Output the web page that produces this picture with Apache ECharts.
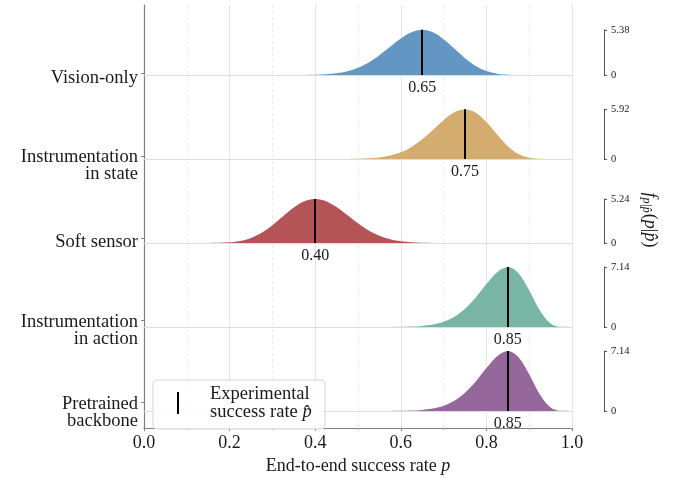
<!DOCTYPE html>
<html>
<head>
<meta charset="utf-8">
<script src="https://cdn.jsdelivr.net/npm/echarts@6/dist/echarts.min.js"></script>
<style>
  html, body { margin: 0; padding: 0; background: #fff; }
  #chart { width: 681px; height: 480px; }
</style>
</head>
<body>
<div id="chart"></div>
<script>
// ------------------------------------------------------------
// data
// ------------------------------------------------------------
var CATEGORIES = ['Vision-only', 'Instrumentation\nin state', 'Soft sensor', 'Instrumentation\nin action', 'Pretrained\nbackbone'];
var P_HAT = [0.65, 0.75, 0.40, 0.85, 0.85];
var PEAK_DENSITY = [5.38, 5.92, 5.24, 7.14, 7.14];

// success rate p, sampled every 0.025
var P_GRID = [0, 0.025, 0.05, 0.075, 0.1, 0.125, 0.15, 0.175, 0.2, 0.225, 0.25, 0.275, 0.3, 0.325,
  0.35, 0.375, 0.4, 0.425, 0.45, 0.475, 0.5, 0.525, 0.55, 0.575, 0.6, 0.625, 0.65, 0.675,
  0.7, 0.725, 0.75, 0.775, 0.8, 0.825, 0.85, 0.875, 0.9, 0.925, 0.95, 0.975, 1];

var DENSITY_VISION = [0, 0, 0, 0, 0, 0, 0, 0, 0, 0, 0, 0, 0, 0,
  0.003, 0.011, 0.034, 0.089, 0.212, 0.450, 0.864, 1.499, 2.357, 3.363, 4.352, 5.098, 5.38, 5.086,
  4.269, 3.144, 1.999, 1.073, 0.471, 0.162, 0.041, 0.007, 0.001, 0, 0, 0, 0];
var DENSITY_STATE = [0, 0, 0, 0, 0, 0, 0, 0, 0, 0, 0, 0, 0, 0,
  0, 0, 0, 0, 0.003, 0.011, 0.032, 0.082, 0.192, 0.412, 0.806, 1.438, 2.340, 3.460,
  4.627, 5.553, 5.92, 5.520, 4.407, 2.918, 1.529, 0.590, 0.147, 0.019, 0.001, 0, 0];
var DENSITY_SOFT = [0, 0, 0, 0, 0, 0, 0.003, 0.020, 0.080, 0.245, 0.601, 1.225, 2.123, 3.193,
  4.224, 4.970, 5.24, 4.977, 4.274, 3.324, 2.342, 1.493, 0.858, 0.443, 0.204, 0.083, 0.030, 0.009,
  0.002, 0, 0, 0, 0, 0, 0, 0, 0, 0, 0, 0, 0];
var DENSITY_ACTION = [0, 0, 0, 0, 0, 0, 0, 0, 0, 0, 0, 0, 0, 0,
  0, 0, 0, 0, 0, 0, 0, 0, 0.002, 0.006, 0.018, 0.050, 0.126, 0.291,
  0.621, 1.215, 2.171, 3.518, 5.107, 6.525, 7.14, 6.407, 4.377, 1.978, 0.430, 0.016, 0];
var DENSITY_BACKBONE = [0, 0, 0, 0, 0, 0, 0, 0, 0, 0, 0, 0, 0, 0,
  0, 0, 0, 0, 0, 0, 0, 0, 0.002, 0.006, 0.018, 0.050, 0.126, 0.291,
  0.621, 1.215, 2.171, 3.518, 5.107, 6.525, 7.14, 6.407, 4.377, 1.978, 0.430, 0.016, 0];

var DENSITIES = [DENSITY_VISION, DENSITY_STATE, DENSITY_SOFT, DENSITY_ACTION, DENSITY_BACKBONE];
var FILL_COLORS = ['#6396c2', '#d5ac6f', '#b45457', '#79b5a5', '#96679a'];

// ------------------------------------------------------------
// layout
// ------------------------------------------------------------
var WIDTH = 681;
var HEIGHT = 480;
var PLOT_LEFT = 144;
var PLOT_RIGHT = 572;
var PLOT_TOP = 5;
var PLOT_BOTTOM = 437;
var ROW_BASE0 = 75;     // baseline of the first row
var ROW_STEP = 84;      // distance between row baselines
var PX_PER_UNIT = 8.4;  // shared density scale
var SERIF = '"Liberation Serif", "DejaVu Serif", serif';
var TEXT_COLOR = '#1a1a1a';

function rowBaseline(i) { return ROW_BASE0 + ROW_STEP * i; }

// row labels sit a little below their tick, as matplotlib draws them
function rowLabel(v) {
  var lines = CATEGORIES[Math.round(v)].split('\n');
  var pad = lines.length > 1 ? '{e2| }' : '{e1| }';
  return pad + '\n' + lines.map(function(s) { return '{t|' + s + '}'; }).join('\n');
}

var grids = [{ left: PLOT_LEFT, right: WIDTH - PLOT_RIGHT, top: PLOT_TOP, bottom: HEIGHT - PLOT_BOTTOM }];
var xAxes = [{
  gridIndex: 0, type: 'value', min: 0, max: 1, interval: 0.2,
  axisLine: { show: true, onZero: false, lineStyle: { color: '#808080', width: 1.2 } },
  axisTick: { show: true, length: 3, lineStyle: { color: '#808080' } },
  minorTick: { show: true, splitNumber: 2, length: 2, lineStyle: { color: '#a0a0a0' } },
  axisLabel: { fontFamily: SERIF, fontSize: 18, color: TEXT_COLOR, margin: 6,
    formatter: function(v) { return v.toFixed(1); } },
  splitLine: { show: true, lineStyle: { color: '#e4e4e4', width: 1 } },
  minorSplitLine: { show: true, lineStyle: { color: '#ececec', width: 1, type: [3, 3] } },
  name: 'End-to-end success rate {i|p}',
  nameLocation: 'middle',
  nameGap: 28,
  nameTextStyle: { fontFamily: SERIF, fontSize: 18, color: TEXT_COLOR,
    rich: { i: { fontFamily: SERIF, fontSize: 18, fontStyle: 'italic', color: TEXT_COLOR } } }
}];
var yAxes = [{
  gridIndex: 0, type: 'value', inverse: true,
  min: (PLOT_TOP - ROW_BASE0) / ROW_STEP,
  max: (PLOT_BOTTOM - ROW_BASE0) / ROW_STEP,
  axisLine: { show: true, onZero: false, lineStyle: { color: '#808080', width: 1.2 } },
  axisTick: { show: true, length: 3, customValues: [0, 1, 2, 3, 4], lineStyle: { color: '#808080' } },
  axisLabel: {
    customValues: [0, 1, 2, 3, 4], color: TEXT_COLOR, margin: 6, align: 'right',
    formatter: rowLabel,
    rich: {
      t: { fontFamily: SERIF, fontSize: 18.5, lineHeight: 17, color: TEXT_COLOR, align: 'right' },
      e1: { fontSize: 6, lineHeight: 9 },
      e2: { fontSize: 8, lineHeight: 20 }
    }
  },
  splitLine: { show: false }
}];
var series = [];

CATEGORIES.forEach(function(name, i) {
  var peak = PEAK_DENSITY[i];
  var h = peak * PX_PER_UNIT;
  var g = i + 1;
  grids.push({ left: PLOT_LEFT, right: WIDTH - PLOT_RIGHT, top: rowBaseline(i) - h, height: h });
  xAxes.push({
    gridIndex: g, type: 'value', min: 0, max: 1,
    axisLine: { show: true, onZero: false, lineStyle: { color: '#dedede', width: 1 } },
    axisTick: { show: false }, axisLabel: { show: false }, splitLine: { show: false }
  });
  yAxes.push({
    gridIndex: g, type: 'value', position: 'right', offset: 32,
    min: 0, max: peak, interval: peak,
    axisLine: { show: true, onZero: false, lineStyle: { color: '#555', width: 1 } },
    axisTick: { show: true, length: 3, lineStyle: { color: '#555' } },
    axisLabel: { fontFamily: SERIF, fontSize: 10.5, color: TEXT_COLOR, margin: 7,
      formatter: function(v) { return v === 0 ? '0' : v.toFixed(2); } },
    splitLine: { show: false }
  });
  series.push({
    name: name,
    type: 'line',
    xAxisIndex: g,
    yAxisIndex: g,
    data: P_GRID.map(function(p, j) { return [p, DENSITIES[i][j]]; }),
    symbol: 'none',
    smooth: 0.35,
    lineStyle: { width: 0, opacity: 0 },
    areaStyle: { color: FILL_COLORS[i], opacity: 1 },
    z: 3,
    markLine: {
      silent: true,
      symbol: ['none', 'none'],
      lineStyle: { color: '#000', width: 2, type: 'solid' },
      label: { show: true, position: 'start', distance: 5, fontFamily: SERIF, fontSize: 16,
        color: TEXT_COLOR, formatter: P_HAT[i].toFixed(2) },
      data: [[{ coord: [P_HAT[i], 0] }, { coord: [P_HAT[i], peak] }]]
    }
  });
});

var chart = echarts.init(document.getElementById('chart'), null, { renderer: 'canvas' });
chart.setOption({
  animation: false,
  backgroundColor: '#fff',
  grid: grids,
  xAxis: xAxes,
  yAxis: yAxes,
  series: series,
  graphic: [
    {
      type: 'rect', z: 10,
      shape: { x: 153, y: 380, width: 172, height: 49, r: 4 },
      style: { fill: 'rgba(255,255,255,0.85)', stroke: '#d6d6d6', lineWidth: 1 }
    },
    {
      type: 'line', z: 11,
      shape: { x1: 178, y1: 392, x2: 178, y2: 414 },
      style: { stroke: '#000', lineWidth: 2 }
    },
    {
      type: 'text', z: 11, left: 210, top: 385,
      style: { text: 'Experimental', font: '18.5px ' + SERIF, fill: TEXT_COLOR }
    },
    {
      type: 'text', z: 11, left: 210, top: 403,
      style: {
        text: 'success rate {i|p\u0302}', font: '18.5px ' + SERIF, fill: TEXT_COLOR,
        rich: { i: { fontFamily: SERIF, fontSize: 18.5, fontStyle: 'italic', fill: TEXT_COLOR } }
      }
    },
    {
      type: 'text', z: 11,
      x: 650, y: 220, rotation: -Math.PI / 2,
      style: {
        text: '{f|f}{s|p|p\u0302}{n|(}{i|p}{n||}{i|p\u0302}{n|)}',
        align: 'center', verticalAlign: 'middle', fill: TEXT_COLOR,
        rich: {
          f: { fontFamily: SERIF, fontSize: 18, fontStyle: 'italic', fill: TEXT_COLOR },
          s: { fontFamily: SERIF, fontSize: 12, fontStyle: 'italic', fill: TEXT_COLOR, padding: [8, 1, 0, 0] },
          n: { fontFamily: SERIF, fontSize: 18, fill: TEXT_COLOR },
          i: { fontFamily: SERIF, fontSize: 18, fontStyle: 'italic', fill: TEXT_COLOR }
        }
      }
    }
  ]
});
</script>
</body>
</html>
